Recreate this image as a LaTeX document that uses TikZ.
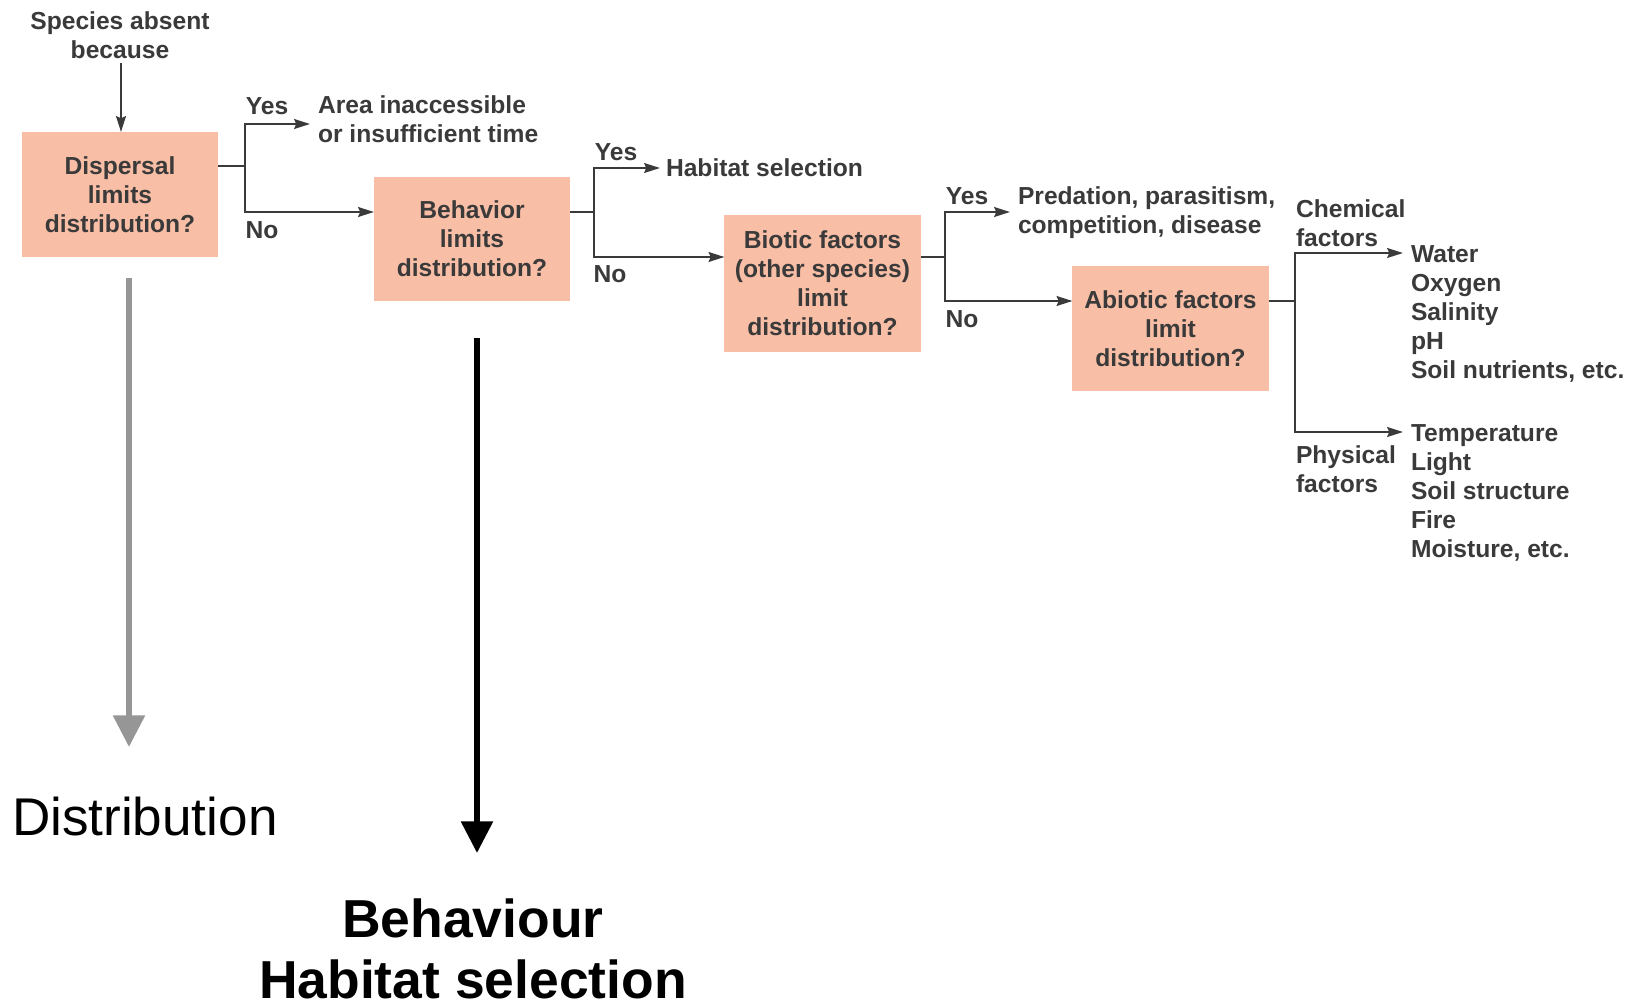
\documentclass[tikz,border=0pt]{standalone}
\usepackage{fontspec}
\setmainfont{Liberation Sans}
\usetikzlibrary{arrows.meta}
\definecolor{boxfill}{RGB}{249,190,166}
\definecolor{ink}{RGB}{58,58,58}
\definecolor{graya}{RGB}{150,150,150}
\begin{document}
\begin{tikzpicture}[x=0.01cm,y=-0.01cm,
  every node/.style={inner sep=0pt, outer sep=0pt},
  sm/.style={font=\fontsize{7}{8.25}\selectfont\bfseries, text=ink},
  box/.style={sm, fill=boxfill, minimum width=1.96cm, align=center},
  lab/.style={sm, align=left, anchor=west},
  ln/.style={draw=ink, line width=0.6pt},
  arr/.style={ln, -{Stealth[length=4.5pt,width=2.8pt,inset=0.6pt]}},
  bigarr/.style={line width=1.65pt, -{Triangle[length=9pt,width=8.8pt]}}
]
\useasboundingbox (0,0) rectangle (1630,1006);

% header text
\node[sm, align=center] (sab) at (120,35) {Species absent\\because};

% boxes
\node[box, minimum height=1.25cm] (b1) at (120,194.5) {Dispersal\\limits\\distribution?};
\node[box, minimum height=1.24cm] (b2) at (472,239) {Behavior\\limits\\distribution?};
\node[box, minimum height=1.37cm] (b3) at (822.5,283.5) {Biotic factors\\(other species)\\limit\\distribution?};
\node[box, minimum height=1.25cm] (b4) at (1170.5,328.5) {Abiotic factors\\limit\\distribution?};

% outcome texts
\node[lab] (area) at (318,119) {Area inaccessible\\or insufficient time};
\node[lab] (habsel) at (666,168) {Habitat selection};
\node[lab] (pred) at (1018,213) {Predation, parasitism,\\competition, disease};
\node[lab] (chem) at (1296,223) {Chemical\\factors};
\node[lab] (phys) at (1296,469) {Physical\\factors};
\node[lab] (chemlist) at (1411,314) {Water\\Oxygen\\Salinity\\pH\\Soil nutrients, etc.};
\node[lab] (physlist) at (1411,493) {Temperature\\Light\\Soil structure\\Fire\\Moisture, etc.};

% yes / no labels
\node[sm] (y1) at (267,106) {Yes};
\node[sm] (n1) at (262,230) {No};
\node[sm] (y2) at (616,152) {Yes};
\node[sm] (n2) at (610,274) {No};
\node[sm] (y3) at (967,196) {Yes};
\node[sm] (n3) at (962,319) {No};

% junctions and arrow ends
\coordinate (j1) at (245,166);
\coordinate (j2) at (594,212);
\coordinate (j3) at (945,257);
\coordinate (j4) at (1295,301);
\coordinate (e1) at (310,124);
\coordinate (e2) at (660,168);
\coordinate (e3) at (1010,212);
\coordinate (e4) at (1403,253);
\coordinate (e5) at (1403,432);
\coordinate (s0) at (121,63);

% connectors
\draw[arr] (s0) -- (b1.north -| s0);
\draw[ln] (b1.east |- j1) -- (j1);
\draw[arr] (j1) |- (e1);
\draw[arr] (j1) |- (b2.west |- j2);
\draw[ln] (b2.east |- j2) -- (j2);
\draw[arr] (j2) |- (e2);
\draw[arr] (j2) |- (b3.west |- j3);
\draw[ln] (b3.east |- j3) -- (j3);
\draw[arr] (j3) |- (e3);
\draw[arr] (j3) |- (b4.west |- j4);
\draw[ln] (b4.east |- j4) -- (j4);
\draw[arr] (j4) |- (e4);
\draw[arr] (j4) |- (e5);

% big arrows and captions
\coordinate (g0) at (129,278);
\coordinate (g1) at (129,747);
\coordinate (k0) at (477,338);
\coordinate (k1) at (477,853);
\draw[bigarr, draw=graya, fill=graya] (g0) -- (g1);
\draw[bigarr, draw=black, fill=black] (k0) -- (k1);

\node[anchor=base west, font=\fontsize{15.1}{17}\selectfont] (dist) at (12,835) {Distribution};
\node[anchor=base, font=\fontsize{15.2}{17}\selectfont\bfseries] (beh) at (473,937) {Behaviour};
\node[anchor=base, font=\fontsize{15.2}{17}\selectfont\bfseries] (hab) at (473,998) {Habitat selection};
\end{tikzpicture}
\end{document}
